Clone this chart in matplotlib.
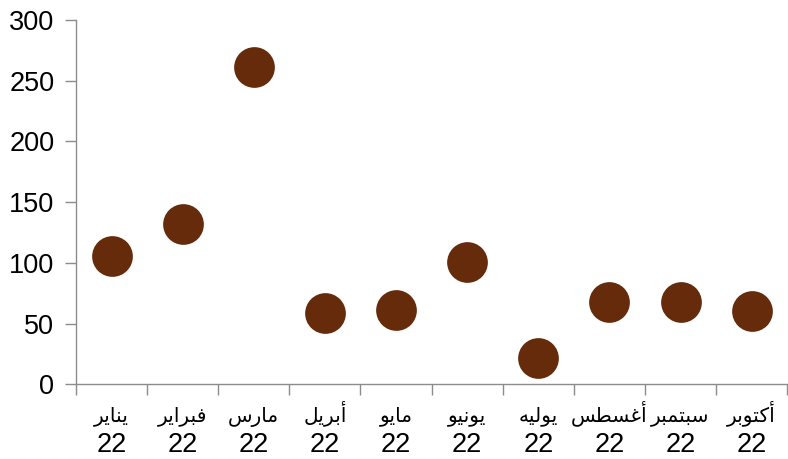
import matplotlib
matplotlib.use('Agg')
import matplotlib.pyplot as plt
import numpy as np

months = ['يناير', 'فبراير', 'مارس', 'أبريل', 'مايو', 'يونيو', 'يوليه', 'أغسطس', 'سبتمبر', 'أكتوبر']
year = '22'
values = [106, 132, 261, 59, 61, 101, 22, 68, 68, 60]

# presentation forms: isolated, final, initial, medial (None = right-joining only)
FORMS = {
  'ا': ('\uFE8D', '\uFE8E', None, None),
  'أ': ('\uFE83', '\uFE84', None, None),
  'ر': ('\uFEAD', '\uFEAE', None, None),
  'و': ('\uFEED', '\uFEEE', None, None),
  'ب': ('\uFE8F', '\uFE90', '\uFE91', '\uFE92'),
  'ت': ('\uFE95', '\uFE96', '\uFE97', '\uFE98'),
  'س': ('\uFEB1', '\uFEB2', '\uFEB3', '\uFEB4'),
  'ط': ('\uFEC1', '\uFEC2', '\uFEC3', '\uFEC4'),
  'غ': ('\uFECD', '\uFECE', '\uFECF', '\uFED0'),
  'ف': ('\uFED1', '\uFED2', '\uFED3', '\uFED4'),
  'ك': ('\uFED9', '\uFEDA', '\uFEDB', '\uFEDC'),
  'ل': ('\uFEDD', '\uFEDE', '\uFEDF', '\uFEE0'),
  'م': ('\uFEE1', '\uFEE2', '\uFEE3', '\uFEE4'),
  'ن': ('\uFEE5', '\uFEE6', '\uFEE7', '\uFEE8'),
  'ه': ('\uFEE9', '\uFEEA', '\uFEEB', '\uFEEC'),
  'ي': ('\uFEF1', '\uFEF2', '\uFEF3', '\uFEF4'),
}

def shape(word):
  # join letters and reverse for right-to-left display
  out = []
  for i, c in enumerate(word):
    f = FORMS[c]
    prev_joins = i > 0 and FORMS[word[i-1]][2] is not None
    next_joins = f[2] is not None and i < len(word) - 1
    if prev_joins and next_joins:
      out.append(f[3])
    elif prev_joins:
      out.append(f[1])
    elif next_joins:
      out.append(f[2])
    else:
      out.append(f[0])
  return ''.join(reversed(out))

plt.rcParams['font.family'] = ['Liberation Sans', 'DejaVu Sans']

fig = plt.figure(figsize=(7.88, 4.59), dpi=100)
ax = fig.add_axes([0.0964, 0.1627, 0.9026, 0.7937])

x = np.arange(len(months))
ax.scatter(x, values, s=860, color='#652b0b', zorder=3, linewidths=0)

ax.set_xlim(-0.5, len(months) - 0.5)
ax.set_ylim(0, 300)
ax.set_yticks(np.arange(0, 301, 50))

ax.set_xticks(x)
ax.set_xticklabels([])
ax.set_xticks(np.arange(-0.5, len(months), 1), minor=True)
ax.tick_params(axis='x', which='major', length=0)
ax.tick_params(axis='x', which='minor', length=8, width=1, color='#8c8c8c', direction='out')
ax.tick_params(axis='y', length=8, width=1, color='#8c8c8c', direction='out', pad=7.5, labelsize=19.5)

tr = ax.get_xaxis_transform()
for xi, m in zip(x, months):
  ax.text(xi, -0.1027, shape(m), transform=tr, ha='center', va='baseline', fontsize=14.5, clip_on=False)
  ax.text(xi, -0.187, year, transform=tr, ha='center', va='baseline', fontsize=19.5, clip_on=False)

for s in ['top', 'right']:
  ax.spines[s].set_visible(False)
for s in ['left', 'bottom']:
  ax.spines[s].set_color('#8c8c8c')
  ax.spines[s].set_linewidth(1)

fig.savefig('out.png', dpi=100)
